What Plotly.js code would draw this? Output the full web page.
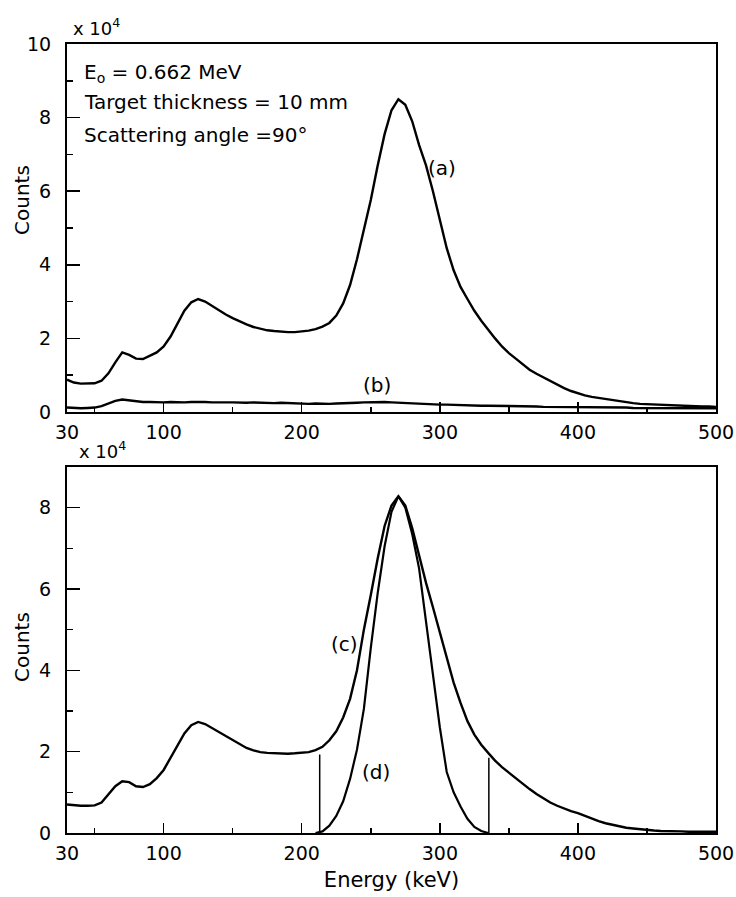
<!DOCTYPE html>
<html>
<head>
<meta charset="utf-8">
<script src="https://cdn.plot.ly/plotly-3.0.1.min.js"></script>
<style>
  html, body { margin: 0; padding: 0; background: #fff; }
  #chart { width: 736px; height: 897px; }
</style>
</head>
<body>
<div id="chart"></div>
<script>
// Energy grid (keV)
const energy = [30,35,40,45,50,55,60,65,70,75,80,85,90,95,100,105,110,115,120,125,130,135,140,145,150,155,160,165,170,175,180,185,190,195,200,205,210,215,220,225,230,235,240,245,250,255,260,265,270,275,280,285,290,295,300,305,310,315,320,325,330,335,340,345,350,355,360,365,370,375,380,385,390,395,400,405,410,415,420,425,430,435,440,445,450,455,460,465,470,475,480,485,490,495,500];

// Counts (x 10^4)
const seriesA = [0.88,0.80,0.77,0.77,0.78,0.85,1.05,1.35,1.62,1.55,1.45,1.44,1.52,1.62,1.78,2.05,2.40,2.75,2.98,3.07,3.00,2.88,2.76,2.65,2.55,2.46,2.38,2.31,2.26,2.22,2.20,2.18,2.17,2.17,2.18,2.21,2.25,2.32,2.42,2.62,2.95,3.45,4.15,4.95,5.76,6.70,7.55,8.20,8.50,8.35,7.90,7.25,6.70,6.00,5.20,4.45,3.85,3.40,3.07,2.75,2.48,2.23,2.00,1.78,1.60,1.45,1.30,1.15,1.04,0.94,0.84,0.74,0.65,0.57,0.50,0.45,0.41,0.38,0.34,0.31,0.28,0.26,0.24,0.22,0.21,0.20,0.19,0.18,0.18,0.17,0.16,0.16,0.15,0.15,0.14];

const seriesB = [0.12,0.10,0.10,0.11,0.12,0.16,0.23,0.30,0.34,0.31,0.28,0.27,0.27,0.26,0.26,0.27,0.26,0.26,0.27,0.28,0.27,0.26,0.27,0.26,0.26,0.25,0.25,0.26,0.25,0.24,0.24,0.25,0.24,0.23,0.23,0.22,0.23,0.22,0.22,0.23,0.23,0.24,0.25,0.26,0.27,0.27,0.27,0.26,0.25,0.24,0.23,0.22,0.21,0.21,0.20,0.20,0.19,0.19,0.18,0.18,0.17,0.17,0.17,0.16,0.16,0.16,0.15,0.15,0.15,0.14,0.14,0.14,0.14,0.13,0.13,0.13,0.13,0.12,0.12,0.12,0.12,0.12,0.11,0.11,0.11,0.11,0.11,0.10,0.10,0.10,0.10,0.10,0.10,0.10,0.10];

const seriesC = [0.70,0.68,0.67,0.67,0.68,0.75,0.95,1.15,1.27,1.25,1.15,1.13,1.20,1.35,1.55,1.85,2.15,2.45,2.65,2.73,2.68,2.58,2.48,2.38,2.28,2.18,2.09,2.03,1.99,1.97,1.96,1.95,1.95,1.96,1.97,1.99,2.04,2.12,2.28,2.50,2.84,3.30,4.00,5.00,5.85,6.75,7.55,8.05,8.28,8.05,7.50,6.80,6.15,5.55,4.95,4.30,3.70,3.20,2.75,2.42,2.17,1.97,1.78,1.62,1.48,1.36,1.22,1.08,0.96,0.85,0.75,0.67,0.60,0.54,0.49,0.42,0.35,0.29,0.24,0.20,0.16,0.13,0.11,0.09,0.07,0.06,0.05,0.05,0.04,0.04,0.03,0.03,0.03,0.03,0.03];

const seriesD = [null,null,null,null,null,null,null,null,null,null,null,null,null,null,null,null,null,null,null,null,null,null,null,null,null,null,null,null,null,null,null,null,null,null,null,null,0,0.04,0.18,0.42,0.78,1.33,2.05,3.05,4.55,5.90,7.05,7.90,8.28,8.00,7.35,6.50,5.20,3.85,2.60,1.50,1.00,0.65,0.35,0.15,0.05,0,null,null,null,null,null,null,null,null,null,null,null,null,null,null,null,null,null,null,null,null,null,null,null,null,null,null,null,null,null,null,null,null,null];

// Integration window markers
const windowE = [213, 335.5];
const windowTop = [1.93, 1.85];

// Tick labels
const xTickVals = [30,100,200,300,400,500];
const xMinorVals = [50,150,250,350,450];
const yTopTicks = [0,2,4,6,8,10];
const yTopMinor = [1,3,5,7,9];
const yBotTicks = [0,2,4,6,8];
const yBotMinor = [1,3,5,7];

const FONT = 'DejaVu Sans, Arial, sans-serif';

const winX = [], winY = [];
windowE.forEach((e, i) => { winX.push(e, e, null); winY.push(0, windowTop[i], null); });

const lineStyle = {color: '#000', width: 2.4};
const traces = [
  {x: energy, y: seriesA, xaxis: 'x', yaxis: 'y', mode: 'lines', line: lineStyle, name: '(a)'},
  {x: energy, y: seriesB, xaxis: 'x', yaxis: 'y', mode: 'lines', line: lineStyle, name: '(b)'},
  {x: energy, y: seriesC, xaxis: 'x2', yaxis: 'y2', mode: 'lines', line: lineStyle, name: '(c)'},
  {x: energy, y: seriesD, xaxis: 'x2', yaxis: 'y2', mode: 'lines', line: {color: '#000', width: 2.2}, name: '(d)', connectgaps: false},
  {x: winX, y: winY, xaxis: 'x2', yaxis: 'y2', mode: 'lines', line: {color: '#000', width: 1.5}, name: 'window'}
];

function xAxis(extra) {
  return Object.assign({
    range: [30, 500], tickmode: 'array', tickvals: xTickVals, ticktext: xTickVals.map(String),
    ticks: 'inside', ticklen: 10, tickwidth: 1.5, tickcolor: '#000',
    minor: {tickvals: xMinorVals, ticks: 'inside', ticklen: 5, tickwidth: 1.5, tickcolor: '#000'},
    showline: true, linewidth: 2, linecolor: '#000', mirror: true,
    showgrid: false, zeroline: false, ticklabelstandoff: 2,
    tickfont: {family: FONT, size: 19, color: '#000'}
  }, extra);
}
function yAxis(range, ticks, minor, extra) {
  return Object.assign({
    range: range, tickmode: 'array', tickvals: ticks, ticktext: ticks.map(String),
    ticks: 'inside', ticklen: 13, tickwidth: 1.5, tickcolor: '#000',
    minor: {tickvals: minor, ticks: 'inside', ticklen: 6, tickwidth: 1.5, tickcolor: '#000'},
    showline: true, linewidth: 2, linecolor: '#000', mirror: true,
    showgrid: false, zeroline: false, ticklabelstandoff: 10,
    tickfont: {family: FONT, size: 19, color: '#000'}
  }, extra);
}

const annFont = {family: FONT, size: 20, color: '#000'};
const annotations = [
  {xref: 'x', yref: 'y', x: 40.9, y: 9.22, xanchor: 'left', yanchor: 'middle', showarrow: false, text: 'E<sub>o</sub> = 0.662 MeV', font: annFont},
  {xref: 'x', yref: 'y', x: 40.9, y: 8.42, xanchor: 'left', yanchor: 'middle', showarrow: false, text: 'Target thickness = 10 mm', font: annFont},
  {xref: 'x', yref: 'y', x: 40.9, y: 7.52, xanchor: 'left', yanchor: 'middle', showarrow: false, text: 'Scattering angle =90°', font: annFont},
  {xref: 'x', yref: 'y', x: 301.5, y: 6.63, showarrow: false, text: '(a)', font: annFont},
  {xref: 'x', yref: 'y', x: 254.5, y: 0.73, showarrow: false, text: '(b)', font: annFont},
  {xref: 'x2', yref: 'y2', x: 230.6, y: 4.65, showarrow: false, text: '(c)', font: annFont},
  {xref: 'x2', yref: 'y2', x: 253.7, y: 1.5, showarrow: false, text: '(d)', font: annFont},
  {xref: 'x domain', yref: 'y domain', x: 0, y: 1, xshift: 4, yshift: 17, xanchor: 'left', yanchor: 'middle', showarrow: false, text: 'x 10<sup>4</sup>', font: {family: FONT, size: 18, color: '#000'}},
  {xref: 'x2 domain', yref: 'y2 domain', x: 0, y: 1, xshift: 10, yshift: 17, xanchor: 'left', yanchor: 'middle', showarrow: false, text: 'x 10<sup>4</sup>', font: {family: FONT, size: 18, color: '#000'}},
  {xref: 'paper', yref: 'paper', x: 0, y: 1, xshift: -45, yshift: -156, xanchor: 'center', yanchor: 'middle', textangle: -90, showarrow: false, text: 'Counts', font: annFont},
  {xref: 'paper', yref: 'paper', x: 0, y: 0, xshift: -45, yshift: 186, xanchor: 'center', yanchor: 'middle', textangle: -90, showarrow: false, text: 'Counts', font: annFont}
];

const layout = {
  width: 736, height: 897,
  margin: {l: 67, r: 20, t: 44, b: 64},
  paper_bgcolor: '#fff', plot_bgcolor: '#fff',
  showlegend: false,
  font: {family: FONT, color: '#000'},
  xaxis: xAxis({anchor: 'y', domain: [0, 1]}),
  yaxis: yAxis([0, 10], yTopTicks, yTopMinor, {anchor: 'x', domain: [0.5336, 1]}),
  xaxis2: xAxis({anchor: 'y2', domain: [0, 1], title: {text: 'Energy (keV)', font: {family: FONT, size: 21, color: '#000'}, standoff: 10}}),
  yaxis2: yAxis([0, 9], yBotTicks, yBotMinor, {anchor: 'x2', domain: [0, 0.4639]}),
  annotations: annotations
};

Plotly.newPlot('chart', traces, layout, {staticPlot: true, displayModeBar: false});
</script>
</body>
</html>
